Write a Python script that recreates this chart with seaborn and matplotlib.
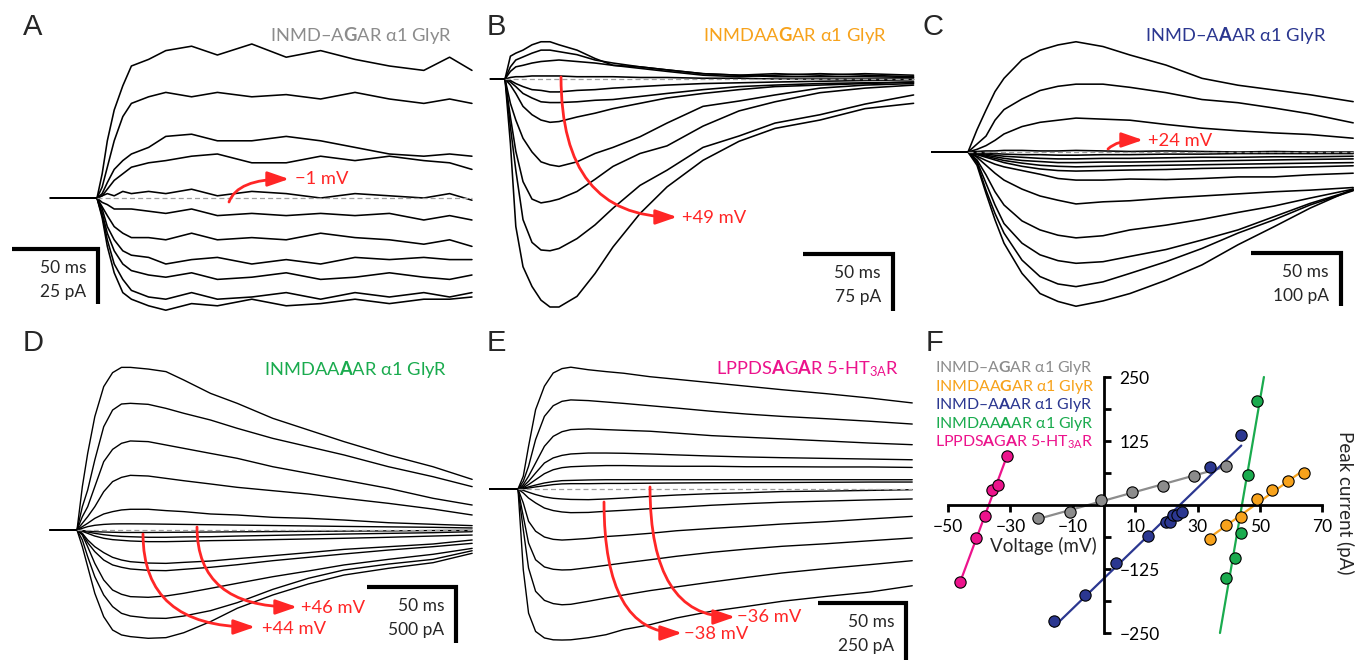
import numpy as np
import pandas as pd
import matplotlib.pyplot as plt
import seaborn as sns
from matplotlib.patches import FancyArrowPatch

sns.set_theme(style='white')
plt.rcParams['font.family'] = ['Lato', 'DejaVu Sans']
plt.rcParams['mathtext.fontset'] = 'custom'
plt.rcParams['mathtext.rm'] = 'Lato'
plt.rcParams['mathtext.bf'] = 'Lato:bold'
plt.rcParams['mathtext.it'] = 'Lato:italic'
plt.rcParams['mathtext.fallback'] = 'cm'

# ---- panel A: INMD-AGAR a1 GlyR (time in ms from onset, current in pA)
t_a = [-27, 0, 3, 6, 10, 15, 20, 30, 40, 55, 70, 90, 110, 130, 150, 170, 190, 205, 218]
traces_a = [
    [0, 0, 11, 26, 40, 51, 60, 63, 67, 69, 65, 70, 64, 67, 63, 60, 58, 64, 58],
    [0, 0, 5, 14, 26, 37, 43, 46, 48, 46, 48, 46, 47, 45, 48, 45, 43, 45, 43],
    [0, 0, 2, 7, 13, 17, 20, 23, 28, 29, 26, 26, 28, 26, 23, 20, 19, 20, 19],
    [0, 0, 1, 4, 8, 11, 14, 16, 17, 19, 20, 16, 16, 19, 17, 19, 17, 16, 13],
    [0, 0, 1, 2, 1, 3, 2, 3, 2, 4, 1, 3, 2, 0, 2, 1, 0, 2, -1],
    [0, 0, -2, -3, -5, -5, -5, -6, -7, -5, -8, -7, -8, -7, -8, -7, -10, -8, -10],
    [0, 0, -4, -8, -13, -16, -18, -18, -19, -16, -19, -18, -19, -16, -18, -19, -21, -19, -22],
    [0, 0, -5, -13, -19, -24, -26, -27, -30, -28, -27, -30, -28, -30, -27, -28, -27, -28, -28],
    [0, 0, -7, -16, -24, -30, -33, -35, -36, -34, -37, -36, -34, -37, -36, -34, -36, -37, -35],
    [0, 0, -8, -19, -30, -37, -42, -45, -46, -43, -46, -45, -43, -46, -43, -45, -43, -45, -43],
    [0, 0, -9, -22, -34, -43, -46, -49, -51, -48, -49, -46, -49, -48, -46, -48, -46, -46, -45],
]

# ---- panel B: INMDAAGAR a1 GlyR
t_b = [-8, 0, 3, 6, 10, 15, 20, 25, 30, 40, 50, 60, 75, 90, 110, 130, 150, 175, 200, 227]
traces_b = [
    [0, 0, 30, 34, 38, 45, 49, 49, 45, 38, 27, 18, 14, 10, 5, 3, 5, 7, 5, 3],
    [0, 0, 16, 25, 29, 34, 38, 38, 36, 32, 25, 21, 16, 12, 7, 5, 7, 5, 7, 5],
    [0, 0, 10, 16, 18, 21, 23, 24, 25, 23, 21, 18, 16, 12, 7, 5, 3, 3, 3, 2],
    [0, 0, 2, 3, 3, 4, 4, 4, 4, 3, 3, 3, 2, 2, 1, 1, 0, 0, 0, 0],
    [0, 0, -2, -6, -10, -14, -15, -17, -17, -15, -14, -12, -10, -8, -6, -5, -4, -3, -2, -1],
    [0, 0, -4, -10, -19, -25, -30, -31, -31, -30, -28, -27, -23, -19, -14, -10, -8, -6, -5, -4],
    [0, 0, -8, -19, -36, -47, -54, -57, -56, -50, -45, -39, -32, -25, -19, -14, -10, -8, -6, -4],
    [0, 0, -32, -54, -78, -96, -109, -113, -115, -109, -98, -90, -76, -58, -36, -29, -21, -12, -8, -6],
    [0, 0, -50, -95, -135, -158, -163, -161, -158, -148, -132, -115, -98, -88, -62, -42, -30, -18, -12, -8],
    [0, 0, -63, -120, -185, -215, -225, -226, -223, -210, -192, -170, -140, -120, -90, -75, -58, -47, -33, -21],
    [0, 0, -85, -194, -247, -273, -291, -300, -300, -286, -256, -221, -177, -142, -107, -82, -65, -54, -39, -32],
]

# ---- panel C: INMD-AAAR a1 GlyR
t_c = [-20, 0, 5, 10, 15, 20, 30, 40, 50, 60, 75, 90, 110, 130, 150, 170, 190, 214]
traces_c = [
    [0, 0, 42, 79, 114, 139, 174, 192, 202, 208, 199, 183, 164, 139, 126, 117, 108, 95],
    [0, 0, 15, 30, 60, 80, 100, 116, 124, 128, 128, 122, 112, 99, 93, 83, 72, 55],
    [0, 0, 5, 12, 22, 34, 48, 56, 60, 64, 62, 60, 52, 45, 40, 36, 33, 26],
    [0, 0, 1, 2, 2, 3, 3, 2, 2, 3, 2, 1, 2, 1, 0, 1, 0, 0],
    [0, 0, -1, -2, -3, -4, -5, -5, -6, -6, -5, -5, -4, -4, -3, -3, -3, -3],
    [0, 0, -2, -4, -6, -8, -10, -12, -13, -13, -12, -12, -11, -10, -10, -9, -9, -8],
    [0, 0, -3, -6, -9, -12, -16, -18, -20, -20, -19, -19, -18, -17, -16, -15, -14, -13],
    [0, 0, -4, -8, -12, -16, -21, -25, -27, -28, -27, -26, -25, -24, -23, -22, -21, -20],
    [0, 0, -5, -10, -15, -20, -27, -32, -35, -36, -35, -34, -33, -31, -30, -29, -28, -26],
    [0, 0, -8, -16, -23, -28, -35, -42, -50, -53, -53, -51, -52, -50, -47, -47, -43, -40],
    [0, 0, -10, -25, -40, -53, -70, -83, -91, -98, -94, -92, -87, -83, -79, -75, -72, -67],
    [0, 0, -15, -43, -75, -100, -130, -147, -157, -162, -158, -147, -138, -127, -114, -102, -87, -70],
    [0, 0, -18, -59, -100, -135, -172, -194, -205, -210, -207, -197, -184, -166, -147, -122, -97, -72],
    [0, 0, -21, -72, -116, -153, -204, -235, -249, -254, -245, -229, -207, -182, -153, -128, -100, -73],
    [0, 0, -25, -78, -128, -172, -229, -267, -282, -291, -281, -267, -242, -213, -175, -141, -106, -70],
]

# ---- panel D: INMDAAAAR a1 GlyR
t_d = [-15, 0, 3, 6, 10, 15, 20, 25, 30, 40, 50, 60, 75, 90, 110, 130, 150, 175, 200, 222]
traces_d = [
    [0, 0, 387, 684, 1012, 1280, 1405, 1452, 1452, 1437, 1414, 1339, 1220, 1131, 997, 893, 789, 670, 565, 452],
    [0, 0, 208, 357, 625, 922, 1071, 1125, 1131, 1122, 1086, 1042, 982, 908, 818, 744, 670, 565, 476, 387],
    [0, 0, 119, 208, 387, 610, 720, 774, 795, 789, 759, 729, 684, 640, 565, 506, 446, 372, 283, 223],
    [0, 0, 60, 119, 208, 342, 432, 470, 488, 482, 461, 440, 411, 381, 351, 321, 283, 238, 187, 134],
    [0, 0, 30, 60, 104, 143, 164, 179, 185, 185, 173, 164, 143, 134, 113, 104, 89, 65, 51, 39],
    [0, 0, 15, 30, 42, 50, 54, 55, 55, 54, 52, 50, 47, 44, 40, 36, 32, 28, 24, 18],
    [0, 0, -5, -10, -15, -18, -20, -22, -22, -22, -21, -20, -18, -16, -14, -12, -10, -8, -5, -3],
    [0, 0, -6, -18, -30, -42, -51, -57, -60, -65, -65, -62, -60, -54, -48, -42, -36, -30, -24, -15],
    [0, 0, -12, -30, -54, -74, -86, -92, -98, -104, -104, -101, -95, -92, -86, -80, -74, -65, -54, -45],
    [0, 0, -30, -89, -149, -202, -244, -268, -283, -295, -298, -289, -277, -256, -229, -202, -173, -149, -125, -89],
    [0, 0, -36, -113, -193, -268, -312, -333, -348, -360, -363, -351, -333, -310, -274, -244, -214, -179, -149, -119],
    [0, 0, -45, -149, -298, -446, -536, -574, -595, -601, -589, -565, -521, -476, -417, -366, -312, -262, -217, -164],
    [0, 0, -89, -238, -417, -580, -684, -744, -768, -786, -789, -768, -720, -649, -530, -431, -357, -304, -262, -185],
    [0, 0, -149, -327, -565, -774, -893, -937, -952, -967, -961, -917, -818, -699, -580, -482, -402, -342, -292, -208],
]

# ---- panel E: LPPDSAGAR 5-HT3A R
t_e = [-16, 0, 3, 6, 10, 15, 20, 25, 30, 40, 50, 60, 75, 90, 110, 130, 150, 175, 200, 224]
traces_e = [
    [0, 0, 55, 184, 342, 443, 500, 519, 525, 514, 506, 499, 484, 473, 458, 443, 428, 411, 392, 371],
    [0, 0, 33, 98, 213, 313, 359, 378, 384, 381, 375, 369, 359, 349, 335, 323, 313, 303, 292, 280],
    [0, 0, 19, 55, 112, 184, 227, 247, 256, 259, 256, 253, 249, 241, 230, 223, 216, 207, 198, 191],
    [0, 0, 11, 33, 69, 112, 134, 145, 151, 155, 155, 154, 151, 147, 142, 138, 135, 132, 129, 126],
    [0, 0, 6, 19, 40, 66, 83, 92, 96, 99, 101, 101, 99, 98, 98, 96, 96, 95, 95, 93],
    [0, 0, 3, 9, 17, 26, 32, 36, 37, 39, 40, 40, 40, 40, 40, 40, 40, 40, 40, 40],
    [0, 0, 1, 4, 9, 14, 19, 22, 23, 23, 24, 24, 25, 26, 27, 28, 28, 29, 30, 30],
    [0, 0, -6, -14, -24, -34, -40, -43, -45, -46, -43, -39, -32, -26, -20, -16, -11, -9, -6, -3],
    [0, 0, -17, -39, -60, -82, -93, -99, -102, -101, -96, -92, -85, -79, -70, -63, -57, -52, -47, -43],
    [0, 0, -60, -139, -182, -207, -217, -220, -218, -213, -205, -200, -191, -180, -170, -161, -151, -141, -129, -118],
    [0, 0, -118, -233, -305, -336, -346, -349, -348, -339, -329, -319, -305, -290, -273, -259, -247, -236, -223, -211],
    [0, 0, -175, -341, -441, -480, -494, -499, -497, -484, -470, -457, -438, -422, -401, -381, -362, -343, -326, -309],
    [0, 0, -348, -535, -614, -642, -650, -651, -650, -641, -628, -606, -585, -556, -527, -506, -484, -463, -444, -417],
]

# ---- panel F: peak current vs voltage
v_gray = [-21, -11, -1, 9, 19, 29, 39]
i_gray = [-26, -13, 9, 26, 38, 57, 76]
v_orange = [34, 39, 44, 49, 54, 59, 64]
i_orange = [-67, -40, -23, 11, 30, 46, 62]
v_blue = [-16, -6, 4, 14, 20, 21, 22, 23.5, 25, 34, 44]
i_blue = [-226, -176, -113, -60, -34, -33, -20, -19, -13, 75, 137]
v_green = [39, 42, 44, 46, 49]
i_green = [-143, -103, -55, 59, 204]
v_pink = [-46, -41, -38, -36, -34, -31]
i_pink = [-151, -65, -22, 29, 40, 96]

GRAY, ORANGE, BLUE, GREEN, PINK = '#8c8c8c', '#f7a21b', '#2b3790', '#1aab4e', '#ec138c'
RED = '#ff2626'

labels = {
    'gray': r'INMD–A$\mathbf{G}$AR α1 GlyR',
    'orange': r'INMDAA$\mathbf{G}$AR α1 GlyR',
    'blue': r'INMD–A$\mathbf{A}$AR α1 GlyR',
    'green': r'INMDAA$\mathbf{A}$AR α1 GlyR',
    'pink': r'LPPDS$\mathbf{A}$G$\mathbf{A}$R 5-HT$_{\mathrm{3A}}$R',
}

W, H = 1356, 660
fig = plt.figure(figsize=(W / 100, H / 100), dpi=100)
FS = 12.5


def frac(x, y):
    return x / W, 1 - y / H


def ftext(x, y, s, **kw):
    kw.setdefault('fontsize', FS)
    fig.text(*frac(x, y), s, **kw)


def trace_panel(box, geo, t, traces, bar, bar_labels, lw=1.0):
    l, tp, w, h = box
    x0, y0, sx, sy = geo
    ax = fig.add_axes([l / W, 1 - (tp + h) / H, w / W, h / H])
    df = pd.DataFrame([(k, tt, v) for k, tr in enumerate(traces) for tt, v in zip(t, tr)],
                      columns=['trace', 't', 'pA'])
    sns.lineplot(data=df, x='t', y='pA', units='trace', estimator=None, color='black',
                 lw=lw, ax=ax, legend=False)
    ax.plot([0, t[-1]], [0, 0], color='#a0a0a0', lw=0.9, ls=(0, (4, 2.5)), zorder=4)
    # scale bar: 50 ms horizontal, current vertical
    cx, cy = (bar[0] - x0) / sx, (y0 - bar[1]) / sy
    ax.plot([cx - 50, cx, cx], [cy, cy, cy - bar[2]], color='black', lw=3,
            solid_joinstyle='miter', solid_capstyle='butt')
    ax.set_xlim((l - x0) / sx, (l + w - x0) / sx)
    ax.set_ylim((y0 - tp - h) / sy, (y0 - tp) / sy)
    ax.axis('off')
    ftext(bar[0] - 12, bar[1] + 24, '50 ms', ha='right', va='baseline')
    ftext(bar[0] - 12, bar[1] + 48, bar_labels, ha='right', va='baseline')
    return ax


def red_arrow(start, end, style):
    arr = FancyArrowPatch(frac(*start), frac(*end), transform=fig.transFigure,
                          connectionstyle=style,
                          arrowstyle='-|>,head_length=1.3,head_width=0.45',
                          mutation_scale=10, color=RED, lw=2, shrinkA=0, shrinkB=0)
    fig.add_artist(arr)


trace_panel((0, 0, 480, 330), (97, 198, 1.72, 2.2), t_a, traces_a, (98, 249, 25), '25 pA', 1.15)
trace_panel((480, 0, 445, 330), (505, 79, 1.8, 0.76), t_b, traces_b, (893, 254, 75), '75 pA', 1.15)
trace_panel((925, 0, 431, 330), (968, 152, 1.8, 0.53), t_c, traces_c, (1341, 253, 100), '100 pA', 1.15)
trace_panel((0, 330, 480, 330), (77, 530, 1.78, 0.112), t_d, traces_d, (456, 587, 500), '500 pA')
trace_panel((480, 330, 445, 330), (518, 489, 1.76, 0.232), t_e, traces_e, (906, 603, 250), '250 pA')

# construct titles
TS = 13.2
ftext(452, 41, labels['gray'], color=GRAY, ha='right', va='baseline', fontsize=TS)
ftext(887, 41, labels['orange'], color=ORANGE, ha='right', va='baseline', fontsize=TS)
ftext(1327, 41, labels['blue'], color=BLUE, ha='right', va='baseline', fontsize=TS)
ftext(447, 375, labels['green'], color=GREEN, ha='right', va='baseline', fontsize=TS)
ftext(899, 374, labels['pink'], color=PINK, ha='right', va='baseline', fontsize=TS)

# red voltage arrows
red_arrow((229, 202), (289, 179), 'angle3,angleA=70,angleB=0')
ftext(295, 184, '−1 mV', color=RED, va='baseline', fontsize=TS)
red_arrow((561, 77), (677, 217), 'angle3,angleA=90,angleB=0')
ftext(682, 223, '+49 mV', color=RED, va='baseline', fontsize=TS)
red_arrow((1108, 149), (1143, 140), 'angle3,angleA=45,angleB=0')
ftext(1148, 146, '+24 mV', color=RED, va='baseline', fontsize=TS)
red_arrow((143, 534), (255, 627), 'angle3,angleA=90,angleB=0')
ftext(262, 634, '+44 mV', color=RED, va='baseline', fontsize=TS)
red_arrow((197, 527), (297, 607), 'angle3,angleA=90,angleB=0')
ftext(301, 613, '+46 mV', color=RED, va='baseline', fontsize=TS)
red_arrow((604, 502), (682, 633), 'angle3,angleA=90,angleB=0')
ftext(684, 639, '−38 mV', color=RED, va='baseline', fontsize=TS)
red_arrow((650, 487), (735, 617), 'angle3,angleA=90,angleB=0')
ftext(737, 622, '−36 mV', color=RED, va='baseline', fontsize=TS)

# panel letters
for letter, (x, y) in zip('ABCDEF', [(33, 27), (496, 27), (933, 27), (33, 343), (496, 343), (935, 343)]):
    ftext(x, y, letter, fontsize=21, family='Liberation Sans', ha='center', va='center')

# ---- panel F
fx0, fy0, fsx, fsy = 1104, 505, 3.12, 0.512
l, tp, w, h = 925, 330, 431, 330
axf = fig.add_axes([l / W, 1 - (tp + h) / H, w / W, h / H])
axf.set_facecolor('none')
series = [(v_pink, i_pink, PINK, False), (v_gray, i_gray, GRAY, False),
          (v_blue, i_blue, BLUE, False), (v_orange, i_orange, ORANGE, False),
          (v_green, i_green, GREEN, True)]
for v, i, col, extend in series:
    m, b = np.polyfit(v, i, 1)
    if extend:
        xs = np.array([(-250 - b) / m, (250 - b) / m])
    else:
        xs = np.array([min(v), max(v)])
    axf.plot(xs, m * xs + b, color=col, lw=1.6, zorder=2)
for v, i, col, _ in series:
    sns.scatterplot(x=v, y=i, color=col, edgecolor='black', linewidth=0.8, s=66,
                    ax=axf, zorder=3, legend=False)
axf.set_xlim((l - fx0) / fsx, (l + w - fx0) / fsx)
axf.set_ylim((fy0 - tp - h) / fsy, (fy0 - tp) / fsy)
for side in ['top', 'right']:
    axf.spines[side].set_visible(False)
axf.spines['left'].set_position(('data', 0))
axf.spines['bottom'].set_position(('data', 0))
axf.spines['left'].set_bounds(-250, 250)
axf.spines['bottom'].set_bounds(-50, 70)
for side in ['left', 'bottom']:
    axf.spines[side].set_linewidth(2)
    axf.spines[side].set_color('black')
axf.set_xticks([-50, -30, -10, 10, 30, 50, 70])
axf.set_yticks([-250, -125, 125, 250])
axf.set_yticks([-187.5, -62.5, 62.5, 187.5], minor=True)
axf.tick_params(axis='x', direction='out', length=5, width=2, pad=5, labelsize=FS,
                colors='black', bottom=True)
axf.tick_params(axis='y', which='both', direction='in', length=5, width=2, pad=-11,
                labelsize=FS, colors='black', left=True)
for lbl in axf.get_yticklabels():
    lbl.set_horizontalalignment('left')
axf.set_xlabel('')
axf.set_ylabel('')
axf.grid(False)

ftext(1043, 552, 'Voltage (mV)', ha='center', va='baseline', fontsize=13.5)
ftext(1345, 503, 'Peak current (pA)', ha='center', va='center', rotation=-90, fontsize=13.5)
for k, (key, col) in enumerate(zip(['gray', 'orange', 'blue', 'green', 'pink'],
                                   [GRAY, ORANGE, BLUE, GREEN, PINK])):
    ftext(935, 372 + 18.6 * k, labels[key], color=col, ha='left', va='baseline', fontsize=11.4)

fig.savefig('out.png', dpi=100, facecolor='white')
